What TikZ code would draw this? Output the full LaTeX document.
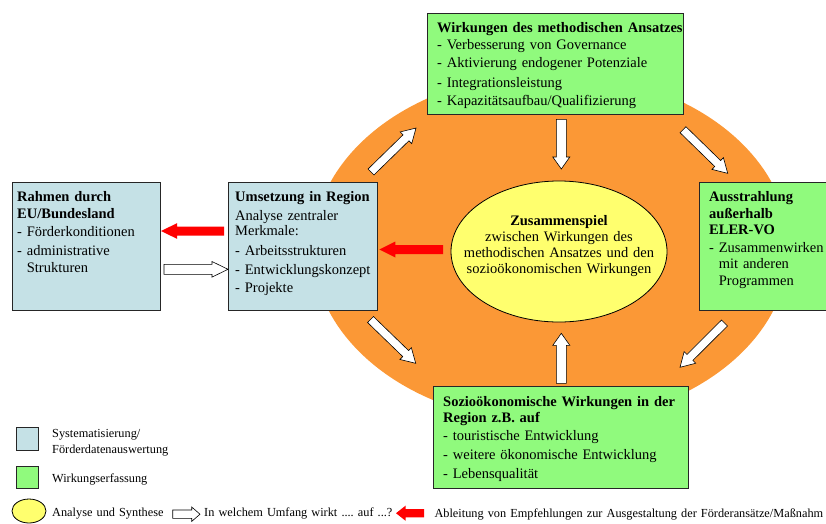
\documentclass[tikz,border=0pt]{standalone}
\usepackage{fontspec}
\setmainfont{Liberation Serif}
\usetikzlibrary{calc,shapes.geometric}
\frenchspacing
\definecolor{lblue}{RGB}{197,225,230}
\definecolor{lgreen}{RGB}{144,250,125}
\definecolor{orng}{RGB}{251,152,54}
\definecolor{ylw}{RGB}{255,255,110}
\newcommand{\blockarrow}[6]{%
  \coordinate (hb) at ($(#2)!#5!(#1)$);
  \path[#6] ($(#1)!#3!90:(#2)$) -- ($(hb)!#3!90:(#2)$) -- ($(hb)!#4!90:(#2)$) -- (#2)
    -- ($(hb)!#4!-90:(#2)$) -- ($(hb)!#3!-90:(#2)$) -- ($(#1)!#3!-90:(#2)$) -- cycle;
}
\tikzset{
  box/.style={draw=black!85, line width=0.8pt, inner sep=0pt, anchor=north west},
  txt/.style={inner sep=0pt, align=left, text width=260pt, anchor=base west,
    font=\fontsize{14.5}{18.5}\selectfont},
  lgtxt/.style={inner sep=0pt, align=left, text width=300pt, anchor=base west,
    font=\fontsize{12.3}{16}\selectfont},
  hollow/.style={fill=white, draw=black, line width=0.6pt, line join=miter},
  redarr/.style={fill=red}
}
\begin{document}
\begin{tikzpicture}[x=1pt,y=-1pt]
\useasboundingbox (0,0) rectangle (826,523);
\clip (0,0) rectangle (826,523);
% big orange ellipse
\node[ellipse, fill=orng, minimum width=476pt, minimum height=350pt, inner sep=0pt] (orange) at (551,248) {};
% boxes
\node[box, fill=lblue, minimum width=148pt, minimum height=128pt] (rahmen) at (12,182) {};
\node[box, fill=lblue, minimum width=149pt, minimum height=128pt] (umsetzung) at (228,182) {};
\node[box, fill=lgreen, minimum width=256pt, minimum height=101pt] (wirk) at (427,13) {};
\node[box, fill=lgreen, minimum width=140pt, minimum height=128pt] (aus) at (699,182) {};
\node[box, fill=lgreen, minimum width=255pt, minimum height=102pt] (sozio) at (433,386) {};
\node[ellipse, draw=black, line width=0.8pt, fill=ylw, minimum width=216pt, minimum height=141pt, inner sep=0pt] (zus) at (559,251.5) {};
% texts
\node[txt] (rahmenT) at (17,201.7) {\textbf{Rahmen durch}\\[-2.2pt]\textbf{EU/Bundesland}\\- Förderkonditionen\\- administrative\\[-0.8pt]\hphantom{-}\ Strukturen};
\node[txt] (umsetzungT) at (235,201.7) {\textbf{Umsetzung in Region}\\Analyse zentraler\\[-2.8pt]Merkmale:\\[0.8pt]- Arbeitsstrukturen\\[0.5pt]- Entwicklungskonzept\\- Projekte};
\node[txt] (wirkT) at (437,32.3) {\textbf{Wirkungen des methodischen Ansatzes}\\[-1.8pt]- Verbesserung von Governance\\- Aktivierung endogener Potenziale\\[1pt]- Integrationsleistung\\- Kapazitätsaufbau/Qualifizierung};
\node[txt, font=\fontsize{14.5}{16.3}\selectfont] (ausT) at (709,201.7) {\textbf{Ausstrahlung}\\\textbf{außerhalb}\\\textbf{ELER-VO}\\[2pt]- Zusammenwirken\\\hphantom{-}\ mit anderen\\\hphantom{-}\ Programmen};
\node[txt] (sozioT) at (443,406) {\textbf{Sozioökonomische Wirkungen in der}\\[-2.2pt]\textbf{Region z.B. auf}\\- touristische Entwicklung\\[0.5pt]- weitere ökonomische Entwicklung\\[0.5pt]- Lebensqualität};
\node[inner sep=0pt, align=center, text width=220pt, anchor=base, font=\fontsize{14.5}{16}\selectfont] (zusT) at (559,225.7) {\textbf{Zusammenspiel}\\zwischen Wirkungen des\\methodischen Ansatzes und den\\sozioökonomischen Wirkungen};
% arrow coordinates
\coordinate (a1s) at (371,172);   \coordinate (a1e) at (416,128);
\coordinate (a2s) at (561.3,119.3); \coordinate (a2e) at (561.3,169);
\coordinate (a3s) at (683,129.7); \coordinate (a3e) at (727.7,173.3);
\coordinate (a4s) at (724.5,323); \coordinate (a4e) at (680,367.3);
\coordinate (a5s) at (561.3,383.3); \coordinate (a5e) at (561.3,333.3);
\coordinate (a6s) at (370.5,319.5); \coordinate (a6e) at (415.7,363.3);
\coordinate (w1s) at (164,269.3); \coordinate (w1e) at (umsetzung.west |- w1s);
\coordinate (r1s) at (224,231); \coordinate (r1e) at (161,231);
\coordinate (r2s) at (443,249.5); \coordinate (r2e) at (379.3,249.5);
\blockarrow{a1s}{a1e}{4.2pt}{8.2pt}{14pt}{hollow}
\blockarrow{a2s}{a2e}{5pt}{8.5pt}{12pt}{hollow}
\blockarrow{a3s}{a3e}{4.2pt}{8.2pt}{14pt}{hollow}
\blockarrow{a4s}{a4e}{4.2pt}{8.2pt}{14pt}{hollow}
\blockarrow{a5s}{a5e}{5pt}{8.5pt}{12pt}{hollow}
\blockarrow{a6s}{a6e}{4.2pt}{8.2pt}{14pt}{hollow}
\blockarrow{w1s}{w1e}{5pt}{7.8pt}{16pt}{hollow}
\blockarrow{r1s}{r1e}{4.5pt}{7.8pt}{16pt}{redarr}
\blockarrow{r2s}{r2e}{4.5pt}{8pt}{16pt}{redarr}
% legend
\node[box, fill=lblue, minimum width=22pt, minimum height=23pt] (lg1) at (16,427) {};
\node[box, fill=lgreen, minimum width=22pt, minimum height=22pt] (lg2) at (16,466) {};
\node[ellipse, draw=black, line width=0.8pt, fill=ylw, minimum width=34pt, minimum height=24pt, inner sep=0pt] (lg3) at (29,511) {};
\node[lgtxt] (lg1T) at (52,437.3) {Systematisierung/\\Förderdatenauswertung};
\node[lgtxt] (lg2T) at (52,482.7) {Wirkungserfassung};
\node[lgtxt] (lg3T) at (52,516.7) {Analyse und Synthese};
\coordinate (lws) at (172.7,514.2); \coordinate (lwe) at (200,514.2);
\blockarrow{lws}{lwe}{4.2pt}{7.2pt}{8.3pt}{hollow}
\node[lgtxt] (lg4T) at (204,516.7) {In welchem Umfang wirkt .... auf ...?};
\coordinate (lrs) at (424,513.2); \coordinate (lre) at (396,513.2);
\blockarrow{lrs}{lre}{4.2pt}{7.5pt}{9.5pt}{redarr}
\node[lgtxt, text width=390pt] (lg5T) at (434.3,517.3) {Ableitung von Empfehlungen zur Ausgestaltung der Förderansätze/Maßnahm};
\end{tikzpicture}
\end{document}
